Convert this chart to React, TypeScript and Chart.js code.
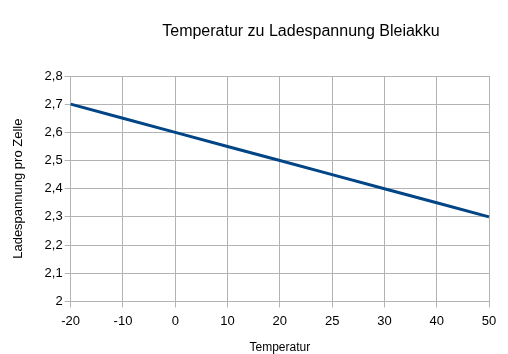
import React, { useEffect, useRef } from "react";
import { Chart, registerables } from "chart.js";

Chart.register(...registerables);

const temperatures = ["-20", "-10", "0", "10", "20", "25", "30", "40", "50"];
const voltages = [2.7, 2.65, 2.6, 2.55, 2.5, 2.45, 2.4, 2.35, 2.3];
const titleText = "Temperatur zu Ladespannung Bleiakku";
const xTitle = "Temperatur";
const yTitle = "Ladespannung pro Zelle";

const FONT = "'Liberation Sans', Arial, sans-serif";

const titlePlugin = {
  id: "customTitle",
  afterDraw(chart: any) {
    const ctx = chart.ctx;
    ctx.save();
    ctx.font = `16px ${FONT}`;
    ctx.fillStyle = "#000";
    ctx.textAlign = "center";
    ctx.textBaseline = "middle";
    ctx.fillText(titleText, 301, 32);
    ctx.restore();
  },
};

export default function App() {
  const ref = useRef<HTMLCanvasElement>(null);
  useEffect(() => {
    document.body.style.margin = "0";
    const chart = new Chart(ref.current!, {
      type: "line",
      data: {
        labels: temperatures,
        datasets: [
          {
            data: voltages,
            borderColor: "#004586",
            backgroundColor: "#004586",
            borderWidth: 3,
            pointRadius: 0,
            tension: 0,
          },
        ],
      },
      options: {
        animation: false,
        responsive: false,
        layout: { padding: { top: 76, right: 19, left: 11, bottom: 0 } },
        plugins: { legend: { display: false }, title: { display: false }, tooltip: { enabled: false } },
        scales: {
          x: {
            type: "category",
            offset: false,
            grid: { color: "#b3b3b3", tickLength: 6, offset: false },
            border: { color: "#b3b3b3" },
            ticks: { color: "#000", font: { family: FONT, size: 13 }, padding: 6, maxRotation: 0 },
            title: { display: true, text: xTitle, color: "#000", font: { family: FONT, size: 12, lineHeight: 1 }, padding: { top: 7, bottom: 0 } },
          },
          y: {
            min: 2,
            max: 2.8,
            grid: { color: "#b3b3b3", tickLength: 6 },
            border: { color: "#b3b3b3" },
            ticks: {
              stepSize: 0.1,
              color: "#000",
              font: { family: FONT, size: 13 },
              padding: 2,
              callback: (v: any) => {
                const n = Math.round(Number(v) * 10) / 10;
                return String(n).replace(".", ",");
              },
            },
            title: { display: true, text: yTitle, color: "#000", font: { family: FONT, size: 13 }, padding: { top: 0, bottom: 16 } },
          },
        },
      },
      plugins: [titlePlugin],
    });
    return () => chart.destroy();
  }, []);
  return <canvas ref={ref} width={508} height={354} style={{ display: "block" }} />;
}
